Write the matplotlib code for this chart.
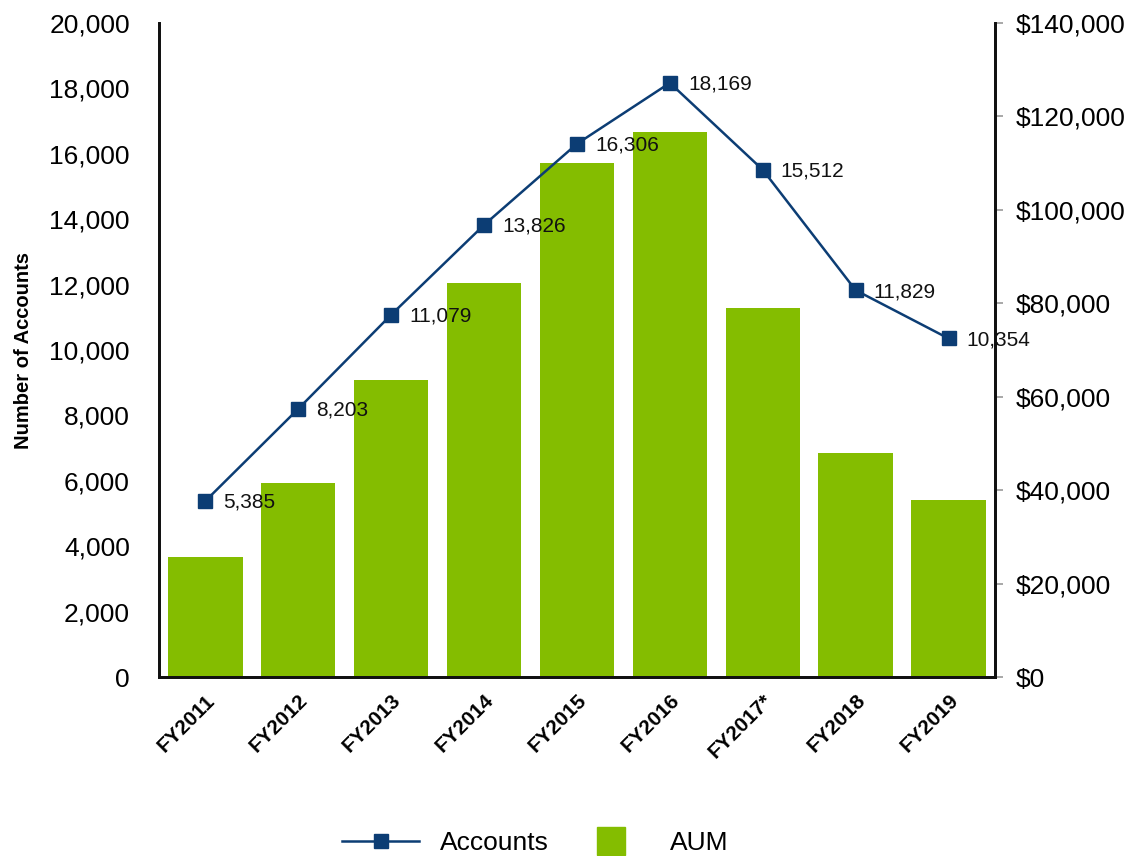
import matplotlib.pyplot as plt
from matplotlib.ticker import FuncFormatter, MultipleLocator
from matplotlib.lines import Line2D

years = ['FY2011', 'FY2012', 'FY2013', 'FY2014', 'FY2015', 'FY2016', 'FY2017*', 'FY2018', 'FY2019']
accounts = [5385, 8203, 11079, 13826, 16306, 18169, 15512, 11829, 10354]
aum = [25700, 41500, 63600, 84300, 110000, 116600, 79000, 48000, 37900]

plt.rcParams['font.family'] = ['Liberation Sans', 'DejaVu Sans']

line_color = '#0c3d74'
bar_color = '#84bd00'

fig = plt.figure(figsize=(11.3, 8.56), dpi=100)
ax = fig.add_axes([0.1407, 0.2091, 0.8805 - 0.1407, 0.9731 - 0.2091])
ax2 = ax.twinx()

x = list(range(len(years)))

# bars on right axis
ax2.bar(x, aum, width=0.8, color=bar_color, zorder=1)
ax2.set_ylim(0, 140000)
ax2.yaxis.set_major_locator(MultipleLocator(20000))
ax2.yaxis.set_major_formatter(FuncFormatter(lambda v, p: f'${int(v):,}'))
ax2.tick_params(axis='y', labelsize=19, length=6, width=1.2, color='#9a9a9a',
                direction='out', pad=9)

# line on left axis, drawn above bars
ax.set_zorder(ax2.get_zorder() + 1)
ax.patch.set_visible(False)
ax.plot(x, accounts, color=line_color, linewidth=1.8, marker='s', markersize=10)
for xi, v in zip(x, accounts):
    ax.annotate(f'{v:,}', (xi, v), xytext=(13, -1), textcoords='offset points',
                ha='left', va='center', fontsize=15, color='#111111')

ax.set_ylim(0, 20000)
ax.set_xlim(-0.5, len(years) - 0.5)
ax.yaxis.set_major_locator(MultipleLocator(2000))
ax.yaxis.set_major_formatter(FuncFormatter(lambda v, p: f'{int(v):,}'))
ax.tick_params(axis='y', labelsize=19, length=0, pad=21)
ax.set_xticks(x)
ax.set_xticklabels(years, rotation=45, ha='right', rotation_mode='anchor',
                   fontsize=15, fontweight='bold')
ax.tick_params(axis='x', length=0, pad=10)
ax.set_ylabel('Number of Accounts', fontsize=14.5, fontweight='bold', labelpad=12)

for a in (ax, ax2):
    a.spines['top'].set_visible(False)
    for s in ('left', 'right', 'bottom'):
        a.spines[s].set_linewidth(2)
        a.spines[s].set_color('#111111')

handles = [Line2D([0], [0], color=line_color, linewidth=1.8, marker='s', markersize=10),
           Line2D([0], [0], color=bar_color, linestyle='none', marker='s', markersize=19.5)]
fig.legend(handles, ['Accounts', 'AUM'], loc='center', bbox_to_anchor=(0.474, 0.0152),
           ncol=2, frameon=False, fontsize=19, handlelength=2.9,
           columnspacing=0.9, handletextpad=0.8)

fig.savefig('out.png', dpi=100)
